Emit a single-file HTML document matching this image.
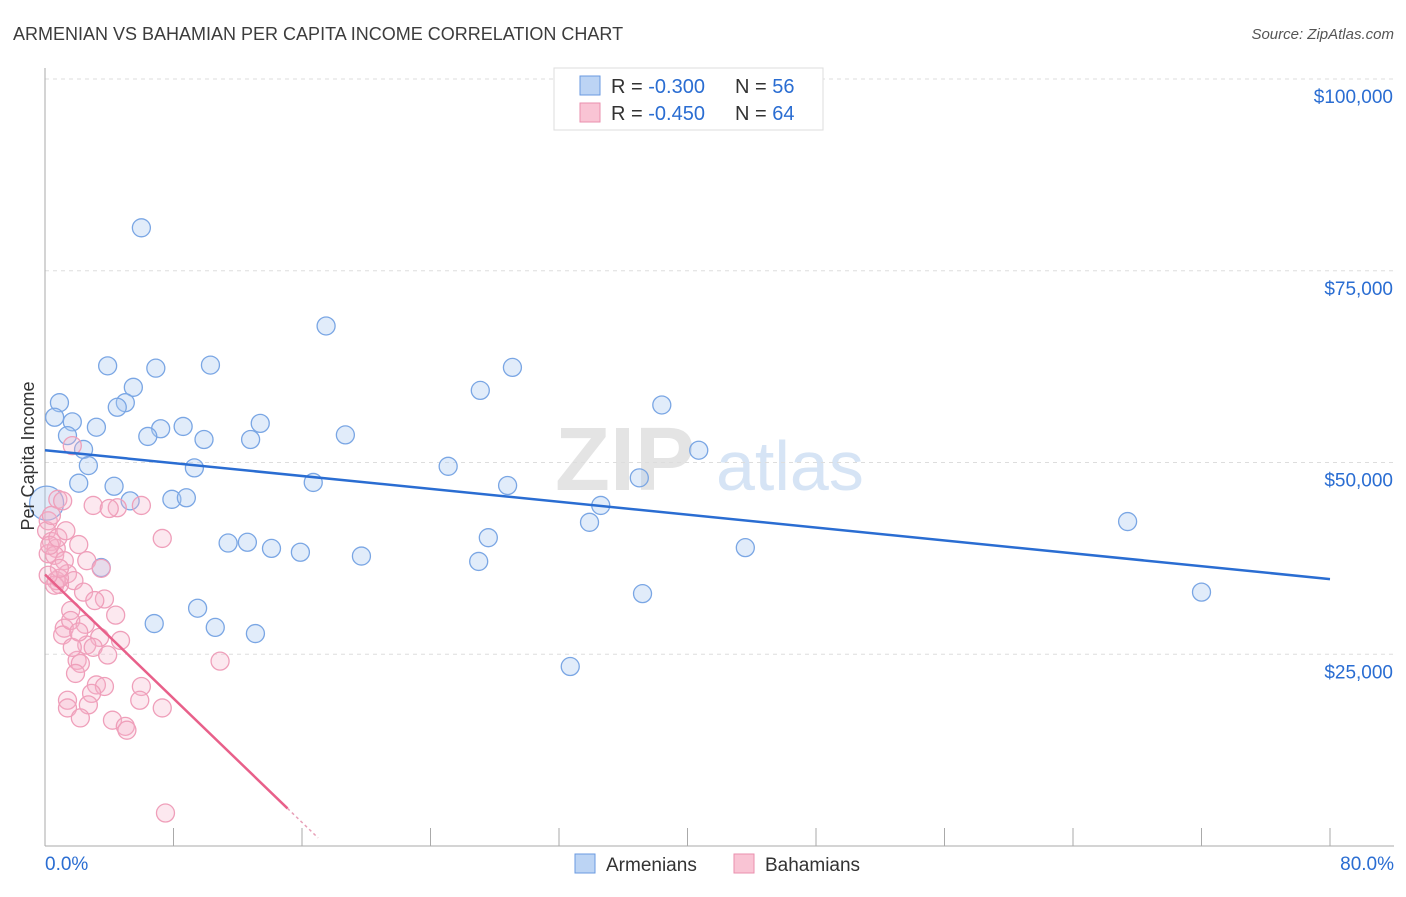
<!DOCTYPE html>
<html><head><meta charset="utf-8"><style>
html,body{margin:0;padding:0;background:#fff;font-family:"Liberation Sans",sans-serif;}
svg text{font-family:"Liberation Sans",sans-serif;}
</style></head><body>
<svg id="chart" width="1406" height="892" viewBox="0 0 1406 892" xmlns="http://www.w3.org/2000/svg">
<text x="13" y="40" font-size="18" fill="#3c3c3c">ARMENIAN VS BAHAMIAN PER CAPITA INCOME CORRELATION CHART</text>
<text x="1394" y="39" font-size="15" fill="#555" text-anchor="end" font-style="italic">Source: ZipAtlas.com</text>
<g>
<text x="555" y="490" font-size="90" fill="#e4e4e4" font-family="Liberation Serif" font-weight="bold">ZIP</text>
<text x="716" y="490" font-size="70" fill="#d6e4f5">atlas</text>
</g>
<g id="grid"></g>
<g id="axes"></g>
<g id="pts"></g>
<g id="trend"></g>
<text transform="translate(34,456) rotate(-90)" font-size="18" fill="#333" text-anchor="middle">Per Capita Income</text>
<g>
<rect x="554" y="68" width="269" height="62" fill="#fff" stroke="#ddd"/>
<rect x="580" y="76" width="20" height="19" fill="#bcd4f4" stroke="#6a9ae0"/>
<rect x="580" y="103" width="20" height="19" fill="#f9c4d4" stroke="#ea8fae"/>
<text x="611" y="93" font-size="20" fill="#333">R = <tspan fill="#2a6dd2">-0.300</tspan></text>
<text x="735" y="93" font-size="20" fill="#333">N = <tspan fill="#2a6dd2">56</tspan></text>
<text x="611" y="120" font-size="20" fill="#333">R = <tspan fill="#2a6dd2">-0.450</tspan></text>
<text x="735" y="120" font-size="20" fill="#333">N = <tspan fill="#2a6dd2">64</tspan></text>
</g>
<g>
<rect x="575" y="854" width="20" height="19" fill="#bcd4f4" stroke="#6a9ae0"/>
<text x="606" y="871" font-size="19" fill="#333">Armenians</text>
<rect x="734" y="854" width="20" height="19" fill="#f9c4d4" stroke="#ea8fae"/>
<text x="765" y="871" font-size="19" fill="#333">Bahamians</text>
</g>
</svg>
<script>
const xTicksPct=[0,8,16,24,32,40,48,56,64,72,80];
const yTicks=[25000,50000,75000,100000];
const yTickLabels=["$25,000","$50,000","$75,000","$100,000"];
const xEndLabels=["0.0%","80.0%"];
const armX=[6.0,17.5,3.9,6.9,10.3,29.1,5.5,27.1,0.9,5.0,4.5,38.4,0.6,1.7,13.4,3.2,8.6,7.2,6.4,1.4,18.7,9.9,12.8,2.4,40.7,2.7,9.3,25.1,37.0,16.7,2.1,4.3,28.8,5.3,7.9,8.8,34.6,0.1,33.9,67.4,27.6,11.4,12.6,14.1,43.6,15.9,19.7,27.0,3.5,37.2,72.0,9.5,6.8,10.6,13.1,32.7];
const armY=[80.6,67.8,62.6,62.3,62.7,62.4,59.8,59.4,57.8,57.8,57.2,57.5,55.9,55.3,55.1,54.6,54.7,54.4,53.4,53.5,53.6,53.0,53.0,51.7,51.6,49.6,49.3,49.5,48.0,47.4,47.3,46.9,47.0,45.0,45.2,45.4,44.4,44.7,42.2,42.3,40.2,39.5,39.6,38.8,38.9,38.3,37.8,37.1,36.3,32.9,33.1,31.0,29.0,28.5,27.7,23.4];
const bahX=[1.7,0.8,1.1,3.0,4.5,6.0,4.0,0.2,0.1,7.3,0.4,0.7,2.1,0.2,0.6,1.2,2.6,3.5,1.4,1.8,0.9,0.7,3.7,2.4,4.4,1.6,1.2,1.1,3.4,2.6,2.0,1.7,3.0,3.9,2.2,10.9,1.9,3.2,3.7,6.0,2.9,1.4,1.4,2.7,7.3,2.2,4.2,5.0,5.1,7.5,0.6,0.9,1.6,0.3,2.5,2.1,0.8,1.3,0.4,0.9,3.1,0.2,5.9,4.7];
const bahY=[52.2,45.2,45.0,44.4,44.1,44.4,44.0,42.4,41.1,40.1,39.7,38.8,39.3,38.1,37.9,37.2,37.2,36.2,35.5,34.6,34.1,34.6,32.2,33.1,30.1,30.7,28.4,27.5,27.2,26.2,24.2,25.9,25.9,24.9,23.8,24.1,22.5,21.0,20.8,20.8,19.9,19.0,18.0,18.4,18.0,16.7,16.4,15.6,15.1,4.3,34.0,34.9,29.4,39.2,28.9,27.9,40.2,41.1,43.1,36.2,32.0,35.3,19.0,26.8];
const armTrend=[51.6,34.8];
const bahTrend=[35.4,-2.02];
const NS="http://www.w3.org/2000/svg";
const X0=45,X1=1330,Y0=846,YTOP=79;
const sx=v=>X0+(v/80)*(X1-X0);
const sy=v=>Y0-(v/100000)*(Y0-YTOP);
function mk(t,a,p){const e=document.createElementNS(NS,t);for(const k in a)e.setAttribute(k,a[k]);p.appendChild(e);return e;}
const grid=document.getElementById('grid'),axes=document.getElementById('axes');
yTicks.forEach((v,i)=>{
 const l=mk('line',{x1:X0,x2:1394,y1:sy(v),y2:sy(v),stroke:'#ddd','stroke-dasharray':'4,4'},grid);
 
 
 const t=mk('text',{x:1393,y:sy(v)+24,'font-size':19,fill:'#2a6dd2','text-anchor':'end'},axes);
 t.textContent=yTickLabels[i];
 
 
});
mk('line',{x1:X0,x2:X0,y1:68,y2:Y0,stroke:'#aaa'},axes);
mk('line',{x1:X0,x2:1394,y1:Y0,y2:Y0,stroke:'#aaa'},axes);
xTicksPct.forEach(v=>{
 const l=mk('line',{x1:sx(v),x2:sx(v),y1:Y0-18,y2:Y0,stroke:'#aaa'},axes);
 
 
});
const xl0=mk('text',{x:45,y:870,'font-size':19,fill:'#2a6dd2'},axes);xl0.textContent=xEndLabels[0];


const xl1=mk('text',{x:1394,y:870,'font-size':19,fill:'#2a6dd2','text-anchor':'end'},axes);xl1.textContent=xEndLabels[1];


const pts=document.getElementById('pts');
armX.forEach((x,i)=>{
 const c=mk('circle',{cx:sx(x),cy:sy(armY[i]*1000),r:(i===37?17:9),fill:'rgba(170,200,242,0.35)',stroke:'#7aa6e4','stroke-width':1.3},pts);
 
 
});
bahX.forEach((x,i)=>{
 const c=mk('circle',{cx:sx(x),cy:sy(bahY[i]*1000),r:9,fill:'rgba(246,180,202,0.3)',stroke:'#ef9fba','stroke-width':1.3},pts);
 
 
});
const tr=document.getElementById('trend');
const a=mk('line',{x1:sx(0),y1:sy(armTrend[0]*1000),x2:sx(80),y2:sy(armTrend[1]*1000),stroke:'#2a6dd2','stroke-width':2.5},tr);


const bf=x=>sy((bahTrend[0]+bahTrend[1]*x)*1000);
const b=mk('line',{x1:sx(0),y1:bf(0),x2:sx(15.1),y2:bf(15.1),stroke:'#e8608a','stroke-width':2.5},tr);


const bd=mk('line',{x1:sx(15.1),y1:bf(15.1),x2:sx(17.0),y2:bf(17.0),stroke:'#e8a0b8','stroke-width':1.5,'stroke-dasharray':'3,3'},tr);


</script>
</body></html>
